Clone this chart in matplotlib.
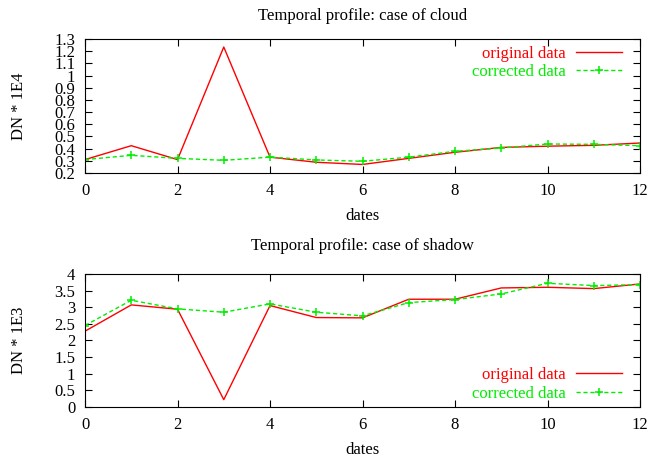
import matplotlib
matplotlib.use("Agg")
import matplotlib.pyplot as plt

plt.rcParams['font.family'] = ['Liberation Serif', 'DejaVu Serif']

dates = list(range(13))
cloud_original = [0.31, 0.424, 0.31, 1.234, 0.33, 0.288, 0.27, 0.32, 0.37, 0.41, 0.42, 0.427, 0.446]
cloud_corrected = [0.31, 0.345, 0.32, 0.304, 0.33, 0.307, 0.296, 0.33, 0.378, 0.405, 0.438, 0.435, 0.424]
shadow_original = [2.28, 3.07, 2.94, 0.22, 3.05, 2.69, 2.68, 3.24, 3.24, 3.58, 3.6, 3.56, 3.7]
shadow_corrected = [2.45, 3.21, 2.95, 2.85, 3.1, 2.85, 2.74, 3.14, 3.23, 3.4, 3.72, 3.65, 3.68]

cloud_yticks = [0.2, 0.3, 0.4, 0.5, 0.6, 0.7, 0.8, 0.9, 1.0, 1.1, 1.2, 1.3]
cloud_yticklabels = ['0.2', '0.3', '0.4', '0.5', '0.6', '0.7', '0.8', '0.9', '1', '1.1', '1.2', '1.3']
shadow_yticks = [0, 0.5, 1, 1.5, 2, 2.5, 3, 3.5, 4]
shadow_yticklabels = ['0', '0.5', '1', '1.5', '2', '2.5', '3', '3.5', '4']
xticks = [0, 2, 4, 6, 8, 10, 12]

fig = plt.figure(figsize=(6.51, 4.58), dpi=100)
ax1 = fig.add_axes([0.1306, 0.6223, 0.8525, 0.2926])
ax2 = fig.add_axes([0.1306, 0.1114, 0.8525, 0.2904])

RED = '#ff0000'
GREEN = '#00ee00'
FS = 12

def style(ax, orig, corr, title, ylabel, yticks, yticklabels, ylim, legend_loc, anchor, tpad):
    ax.plot(dates, orig, color=RED, lw=1.0, label='original data')
    ax.plot(dates, corr, color=GREEN, lw=1.0, ls=(0, (3, 2)), marker='+', ms=6, mew=1.1,
            label='corrected data')
    ax.set_xlim(0, 12)
    ax.set_ylim(*ylim)
    ax.set_xticks(xticks)
    ax.set_yticks(yticks)
    ax.set_yticklabels(yticklabels)
    ax.tick_params(direction='in', top=True, right=True, labelsize=FS, length=5, pad=7)
    ax.set_title(title, fontsize=FS, pad=tpad)
    ax.set_xlabel('dates', fontsize=FS, labelpad=7)
    ax.set_ylabel(ylabel, fontsize=FS, labelpad=20)
    ax.legend(loc=legend_loc, bbox_to_anchor=anchor, frameon=False, markerfirst=False,
              fontsize=FS, labelcolor='linecolor', handlelength=2.8, borderaxespad=0.0,
              labelspacing=0.15, handletextpad=0.6)

style(ax1, cloud_original, cloud_corrected, 'Temporal profile: case of cloud', 'DN * 1E4',
      cloud_yticks, cloud_yticklabels, (0.2, 1.3), 'upper right', (0.98, 1.0), 13.5)
style(ax2, shadow_original, shadow_corrected, 'Temporal profile: case of shadow', 'DN * 1E3',
      shadow_yticks, shadow_yticklabels, (0, 4), 'lower right', (0.98, -0.01), 17.5)

fig.savefig('out.png', dpi=100)
